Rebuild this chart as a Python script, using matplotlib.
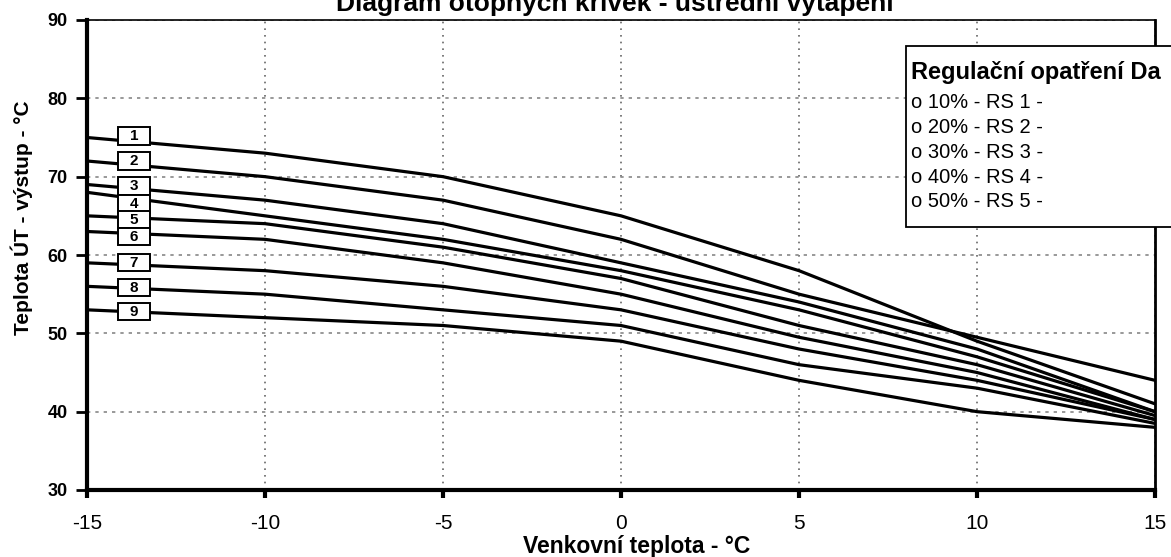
import matplotlib.pyplot as plt
from matplotlib.patches import Rectangle
import numpy as np

plt.rcParams['font.family'] = ['Liberation Sans', 'DejaVu Sans']

# venkovni teplota (x) a teplota UT pro 9 krivek
venkovni = [-15, -10, -5, 0, 5, 10, 15]
krivka_1 = [75, 73, 70, 65, 58, 49, 41]
krivka_2 = [72, 70, 67, 62, 55, 49.5, 44]
krivka_3 = [69, 67, 64, 59, 54, 48, 40]
krivka_4 = [68, 65, 62, 58, 53, 47, 40]
krivka_5 = [65, 64, 61, 57, 51, 46, 39.5]
krivka_6 = [63, 62, 59, 55, 49.5, 45, 39]
krivka_7 = [59, 58, 56, 53, 48, 44, 39]
krivka_8 = [56, 55, 53, 51, 46, 43, 38.5]
krivka_9 = [53, 52, 51, 49, 44, 40, 38]
krivky = [krivka_1, krivka_2, krivka_3, krivka_4, krivka_5,
          krivka_6, krivka_7, krivka_8, krivka_9]

# popisky krivek (cisla v rameckach)
popisky = ['1', '2', '3', '4', '5', '6', '7', '8', '9']
popisky_y = [75.2, 72.0, 68.8, 66.5, 64.5, 62.4, 59.0, 55.9, 52.8]
popisky_x = -13.68

x_ticks = [-15, -10, -5, 0, 5, 10, 15]
y_ticks = [30, 40, 50, 60, 70, 80, 90]

legenda_titulek = 'Regulační opatření Da'
legenda_radky = ['o 10% - RS 1 -', 'o 20% - RS 2 -', 'o 30% - RS 3 -',
                 'o 40% - RS 4 -', 'o 50% - RS 5 -']

W, H = 1171, 557
fig = plt.figure(figsize=(W / 100, H / 100), dpi=100)
ax = fig.add_axes([87 / W, 1 - 490 / H, (1155 - 87) / W, (490 - 20) / H])

for k in krivky:
    ax.plot(venkovni, k, color='black', lw=2.3, solid_joinstyle='round', zorder=3)

# ramecky s cisly
for lab, yy in zip(popisky, popisky_y):
    ax.add_patch(Rectangle((popisky_x - 0.45, yy - 1.1), 0.9, 2.2,
                           facecolor='white', edgecolor='black', lw=1.4, zorder=4))
    ax.text(popisky_x, yy - 0.05, lab, ha='center', va='center', fontsize=11,
            fontweight='bold', zorder=5)

ax.set_xlim(-15, 15)
ax.set_ylim(30, 90)
ax.set_xticks(x_ticks)
ax.set_yticks(y_ticks)
ax.set_xticklabels([str(t) for t in x_ticks], fontsize=15)
ax.set_yticklabels([str(t) for t in y_ticks], fontsize=13, fontweight='bold')
ax.tick_params(axis='y', direction='out', length=8, width=2, pad=6)
ax.tick_params(axis='x', direction='out', length=6, width=3, pad=11)

ax.xaxis.grid(True, linestyle=(0, (1, 3)), color='#666666', lw=1.2)
ax.yaxis.grid(True, linestyle=(0, (2, 3)), color='#888888', lw=1.2)
ax.set_axisbelow(True)

ax.spines['left'].set_linewidth(3)
ax.spines['bottom'].set_linewidth(3)
ax.spines['right'].set_linewidth(2)
ax.spines['top'].set_linewidth(1.2)

fig.text(637 / W, 1 - 546 / H, 'Venkovní teplota - °C', ha='center', va='center',
         fontsize=16.5, fontweight='bold')
fig.text(22 / W, 1 - 218 / H, 'Teplota ÚT - výstup - °C', ha='center', va='center',
         rotation=90, fontsize=15, fontweight='bold')

fig.text(615 / W, 1 - 11 / H, 'Diagram otopných křivek - ústřední vytápění',
         ha='center', va='baseline', fontsize=19, fontweight='bold')

# legenda (oriznuta pravym okrajem)
fig.patches.append(Rectangle((906 / W, 1 - 227 / H), 300 / W, 181 / H,
                             transform=fig.transFigure, facecolor='white',
                             edgecolor='black', lw=1.3, zorder=10))
fig.text(911 / W, 1 - 73 / H, legenda_titulek, ha='left', va='center',
         fontsize=17, fontweight='bold', zorder=11)
for i, r in enumerate(legenda_radky):
    fig.text(911 / W, 1 - (103 + 24.7 * i) / H, r, ha='left', va='center',
             fontsize=14.5, zorder=11)

fig.savefig('out.png', dpi=100)
